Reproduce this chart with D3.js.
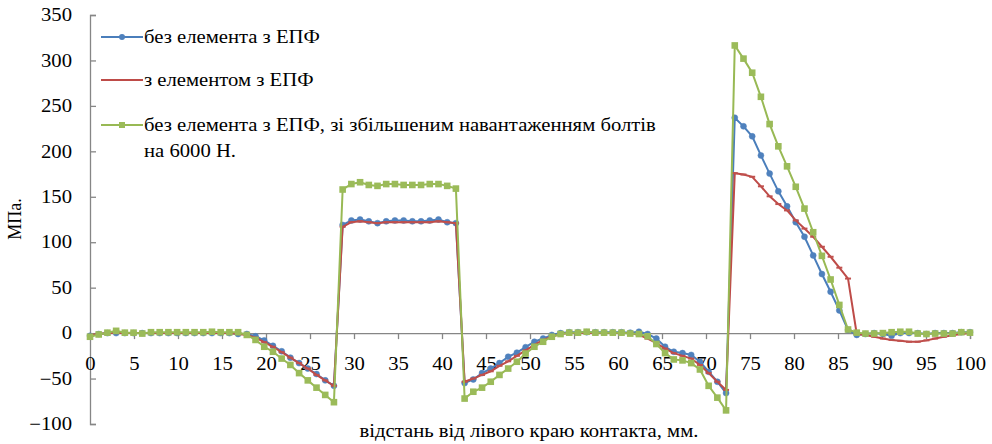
<!DOCTYPE html>
<html>
<head>
<meta charset="utf-8">
<script src="https://cdn.jsdelivr.net/npm/d3@7"></script>
<style>
  html, body { margin: 0; padding: 0; background: #fff; }
  svg { display: block; }
</style>
</head>
<body>
<svg id="chart" width="992" height="444"></svg>
<script>
// ---- data ----
const distance = [
  0, 0.99, 1.98, 2.97, 3.96, 4.95, 5.94, 6.93, 7.92, 8.91,
  9.90, 10.89, 11.88, 12.87, 13.86, 14.85, 15.84, 16.83, 17.82, 18.81,
  19.80, 20.79, 21.78, 22.77, 23.76, 24.75, 25.74, 26.73, 27.72,
  28.71, 29.70, 30.69, 31.68, 32.67, 33.66, 34.65, 35.64, 36.63, 37.62, 38.61, 39.60, 40.59, 41.58,
  42.57, 43.56, 44.55, 45.54, 46.53, 47.52, 48.51, 49.50, 50.50, 51.49, 52.48, 53.47,
  54.46, 55.45, 56.44, 57.43, 58.42, 59.41, 60.40, 61.39, 62.38,
  63.37, 64.36, 65.35, 66.34, 67.33, 68.32, 69.31, 70.30, 71.29, 72.28,
  73.27, 74.26, 75.25, 76.24, 77.23, 78.22, 79.21, 80.20, 81.19, 82.18, 83.17, 84.16, 85.15, 86.14, 87.13,
  88.12, 89.11, 90.10, 91.09, 92.08, 93.07, 94.06, 95.05, 96.04, 97.03, 98.02, 99.01, 100
];
const withoutElement = [
  -3, -1, 0, 0, 0, 0, 0, 0, 0, 0,
  0, 0, 0, 0, 0, 0, 0, -1, -1, -3.5,
  -8, -14, -20, -27, -33, -39, -45, -52, -58,
  119, 124, 125, 123, 121, 123, 124, 124, 123, 123, 124, 125, 122, 121,
  -55, -51, -44, -39, -33, -26, -21.5, -15.5, -9.5, -6, -2, 0,
  1, 1, 1, 1, 1, 1, 1, 0.5, 1.5,
  -1, -6, -15, -20.5, -22, -24, -31.5, -42.5, -53.5, -66,
  237, 227.5, 216.5, 195.5, 175.5, 156, 139.5, 122, 106, 85.5, 65, 45.5, 25, 3.5, -2,
  -1, 0, -1, -3, 0, 0, 0, -1, 0, 0, 0, 1, 1
];
const withElement = [
  -2, -1, 0, 0, 0, 0, 0, 0, 0, 0,
  0, 0, 0, 0, 0, 0, 0, -1, -2, -5,
  -10, -15, -21, -27, -33, -39, -46, -52, -58,
  117, 122, 123, 122, 121, 122, 122, 122, 122, 122, 122, 123, 122, 121,
  -53.5, -50, -46, -42, -36, -31, -25, -19, -13, -7.5, -4, -1,
  0, 0, 0, 0, 0, 0, 0, 0, -2,
  -6, -11, -17, -22, -25, -28, -35, -44, -53.5, -62.5,
  176, 174.5, 172, 161.5, 150.5, 142, 135, 124, 115, 106, 95, 84, 72, 60, -1,
  -2, -4, -6, -7.5, -8.5, -9.5, -9.5, -8, -6, -4, -2.5, -1, 0
];
const increasedLoad = [
  -4, -1.5, 0.5, 2.5, 0.5, 0.5, -0.5, 1, 1, 1,
  1, 1, 1, 1, 1.5, 1, 1, 1, -2, -7.5,
  -15, -20.5, -28, -35, -44, -52, -60, -68, -76,
  158, 164, 166, 163, 162, 164, 164, 163, 163, 163, 164, 164, 162, 159,
  -72, -64.5, -60, -53.5, -46, -39, -31.5, -22.5, -15, -9.5, -4, -1,
  0.5, 0.5, 1.5, 0.5, 0.5, 0.5, 0.5, -0.5, -1,
  -3.5, -12, -22, -29, -30, -33, -40, -58, -71, -85,
  316.5, 302, 286.5, 260, 230, 205.5, 183.5, 161, 137, 111, 85, 59, 31, 4, 0.5,
  -0.5, -0.5, 0, 1, 1.5, 1.5, -0.5, -1, -0.5, -0.5, -0.5, 1, 0.5
];
const seriesNames = [
  "без елемента з ЕПФ",
  "з елементом з ЕПФ",
  "без елемента з ЕПФ, зі збільшеним навантаженням болтів",
  "на 6000 Н."
];
const xTicks = [0, 5, 10, 15, 20, 25, 30, 35, 40, 45, 50, 55, 60, 65, 70, 75, 80, 85, 90, 95, 100];
const yTicks = [-100, -50, 0, 50, 100, 150, 200, 250, 300, 350];
const xTitle = "відстань від лівого краю контакта, мм.";
const yTitle = "МПа.";

// ---- drawing ----
const svg = d3.select("#chart");
const x = d3.scaleLinear().domain([0, 100]).range([90, 970]);
const y = d3.scaleLinear().domain([-100, 350]).range([424, 15]);
const axisColor = "#868686";
const FS = 18;
const SERIF = '"Liberation Serif", "Tinos", "Times New Roman", serif';

function styleText(sel) {
  return sel.style("font-family", SERIF).style("font-size", FS + "px").style("fill", "#000");
}

// y axis
const yAxis = svg.append("g").attr("transform", "translate(90,0)")
  .call(d3.axisLeft(y).tickValues(yTicks).tickSize(-6).tickPadding(18).tickFormat(d3.format("d")));
yAxis.select(".domain").attr("stroke", axisColor).attr("stroke-width", 1.3);
yAxis.selectAll(".tick line").attr("stroke", axisColor).attr("stroke-width", 1.3);
styleText(yAxis.selectAll(".tick text"));

// x axis at y = 0
const xAxis = svg.append("g").attr("transform", `translate(0,${y(0)})`)
  .call(d3.axisBottom(x).tickValues(xTicks).tickSize(6).tickPadding(18).tickFormat(d3.format("d")));
xAxis.select(".domain").attr("stroke", axisColor).attr("stroke-width", 1.3);
xAxis.selectAll(".tick line").attr("stroke", axisColor).attr("stroke-width", 1.3);
styleText(xAxis.selectAll(".tick text"));

// titles
const xT = styleText(svg.append("text").attr("class", "stretch").attr("x", 529).attr("y", 437)
  .attr("text-anchor", "middle").text(xTitle));
styleText(svg.append("text").attr("transform", "translate(21,219) rotate(-90)")
  .attr("text-anchor", "middle").text(yTitle));

const line = d3.line().x((d, i) => x(distance[i])).y(d => y(d));

const colors = { blue: "#4a7ebb", red: "#be4b48", green: "#98b954" };
const fills = { blue: "#4f81bd", red: "#c0504d", green: "#9bbb59" };

// series 1 (blue, circles)
svg.append("path").datum(withoutElement).attr("d", line)
  .attr("fill", "none").attr("stroke", colors.blue).attr("stroke-width", 2);
svg.append("g").selectAll("circle").data(withoutElement).join("circle")
  .attr("cx", (d, i) => x(distance[i])).attr("cy", d => y(d)).attr("r", 3)
  .attr("fill", fills.blue).attr("stroke", fills.blue).attr("stroke-width", 0.5);

// series 2 (red, dash markers)
svg.append("path").datum(withElement).attr("d", line)
  .attr("fill", "none").attr("stroke", colors.red).attr("stroke-width", 2);
svg.append("g").selectAll("line").data(withElement).join("line")
  .attr("x1", (d, i) => x(distance[i]) - 3).attr("x2", (d, i) => x(distance[i]) + 3)
  .attr("y1", d => y(d)).attr("y2", d => y(d))
  .attr("stroke", fills.red).attr("stroke-width", 2);

// series 3 (green, squares)
svg.append("path").datum(increasedLoad).attr("d", line)
  .attr("fill", "none").attr("stroke", colors.green).attr("stroke-width", 2);
svg.append("g").selectAll("rect").data(increasedLoad).join("rect")
  .attr("x", (d, i) => x(distance[i]) - 3.3).attr("y", d => y(d) - 3.3)
  .attr("width", 6.6).attr("height", 6.6).attr("fill", fills.green);

// legend
const lg = svg.append("g");
const legendRows = [
  { y: 37, c: colors.blue, m: "circle", t: seriesNames[0] },
  { y: 80, c: colors.red, m: "none", t: seriesNames[1] },
  { y: 125, c: colors.green, m: "square", t: seriesNames[2] }
];
const legendTexts = [];
legendRows.forEach(r => {
  lg.append("line").attr("x1", 101).attr("x2", 143).attr("y1", r.y).attr("y2", r.y)
    .attr("stroke", r.c).attr("stroke-width", 2);
  if (r.m === "circle") lg.append("circle").attr("cx", 122).attr("cy", r.y).attr("r", 3).attr("fill", fills.blue);
  if (r.m === "square") lg.append("rect").attr("x", 119).attr("y", r.y - 3).attr("width", 6).attr("height", 6).attr("fill", fills.green);
  legendTexts.push(styleText(lg.append("text").attr("x", 144).attr("y", r.y + 6).text(r.t)));
});
legendTexts.push(styleText(lg.append("text").attr("x", 144).attr("y", 157).text(seriesNames[3])));

// horizontal stretch of horizontal texts to mimic the source's wider glyphs
const natural = legendTexts[0].node().getComputedTextLength();
const sx = Math.max(1, Math.min(1.3, 176 / natural));
function stretch(sel) {
  sel.each(function () {
    const t = d3.select(this);
    const ax = +t.attr("x") || 0, ay = +t.attr("y") || 0;
    const prev = t.attr("transform") || "";
    t.attr("transform", `${prev} translate(${ax},${ay}) scale(${sx},1) translate(${-ax},${-ay})`);
  });
}
stretch(yAxis.selectAll(".tick text"));
stretch(xAxis.selectAll(".tick text"));
stretch(xT);
legendTexts.forEach(stretch);
</script>
</body>
</html>
